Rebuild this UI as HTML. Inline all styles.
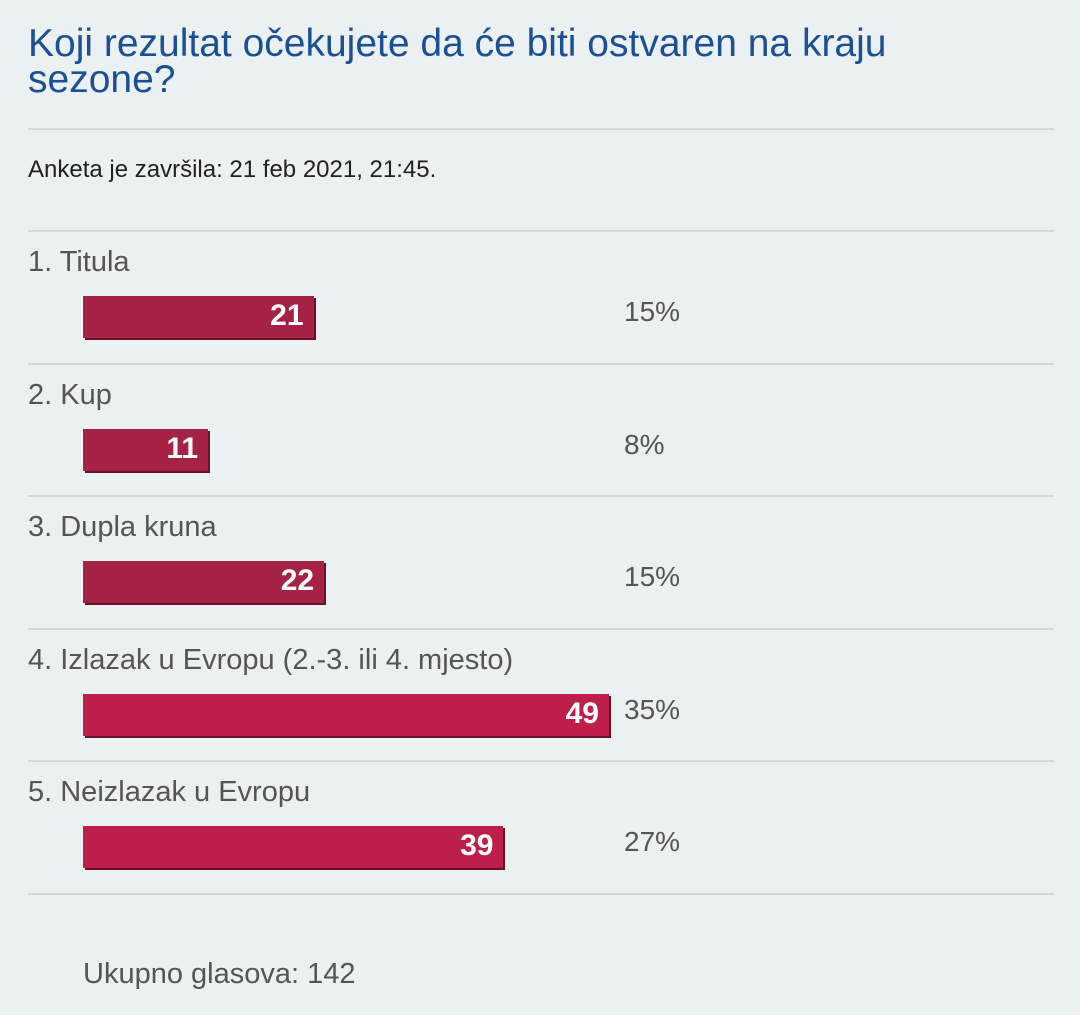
<!DOCTYPE html>
<html><head><meta charset="utf-8"><style>
body{margin:0;width:1080px;height:1015px;background:#ebf0f2;font-family:"Liberation Sans",sans-serif;position:relative;overflow:hidden}
.t{position:absolute;left:28px;top:26px;color:#1c5094;font-size:39px;line-height:36px;width:1000px}
.hr{position:absolute;left:28px;width:1026px;height:2px;background:#d4d9dc}
.sub{position:absolute;left:28px;top:156px;font-size:24px;color:#222}
.lab{position:absolute;left:28px;font-size:29px;color:#555}
.bar{position:absolute;left:83px;height:42px;box-shadow:2px 2px 0 #6a1128}
.bar span{position:absolute;right:10px;top:3px;color:#fff;font-weight:bold;font-size:30px}
.pct{position:absolute;left:624px;font-size:28px;color:#555}
.tot{position:absolute;left:83px;top:958px;font-size:29px;color:#555}
</style></head><body>
<div class="t">Koji rezultat očekujete da će biti ostvaren na kraju sezone?</div>
<div class="hr" style="top:128px"></div>
<div class="sub">Anketa je završila: 21 feb 2021, 21:45.</div>
<div id="rows"></div>
<div class="tot">Ukupno glasova: 142</div>
<script>
const labels=["1. Titula","2. Kup","3. Dupla kruna","4. Izlazak u Evropu (2.-3. ili 4. mjesto)","5. Neizlazak u Evropu"];
const votes=[21,11,22,49,39];
const percents=["15%","8%","15%","35%","27%"];
const colors=["#a52245","#a52245","#a52245","#be1e4a","#be1e4a"];
const root=document.getElementById('rows');
function w(v){return 9+10.55*v;}
labels.forEach((l,i)=>{
 const y0=230+i*132.6;
 const hr=document.createElement('div');hr.className='hr';hr.style.top=y0+'px';
 
 
 root.appendChild(hr);
 const lab=document.createElement('div');lab.className='lab';lab.style.top=(y0+16)+'px';lab.textContent=l;
 
 
 root.appendChild(lab);
 const b=document.createElement('div');b.className='bar';b.style.top=(y0+66)+'px';b.style.width=w(votes[i])+'px';b.style.background=colors[i];
 
 
 const s=document.createElement('span');s.textContent=votes[i];
 
 
 b.appendChild(s);root.appendChild(b);
 const p=document.createElement('div');p.className='pct';p.style.top=(y0+66)+'px';p.textContent=percents[i];
 
 
 root.appendChild(p);
});
const last=document.createElement('div');last.className='hr';last.style.top='893px';


root.appendChild(last);
</script>
</body></html>
